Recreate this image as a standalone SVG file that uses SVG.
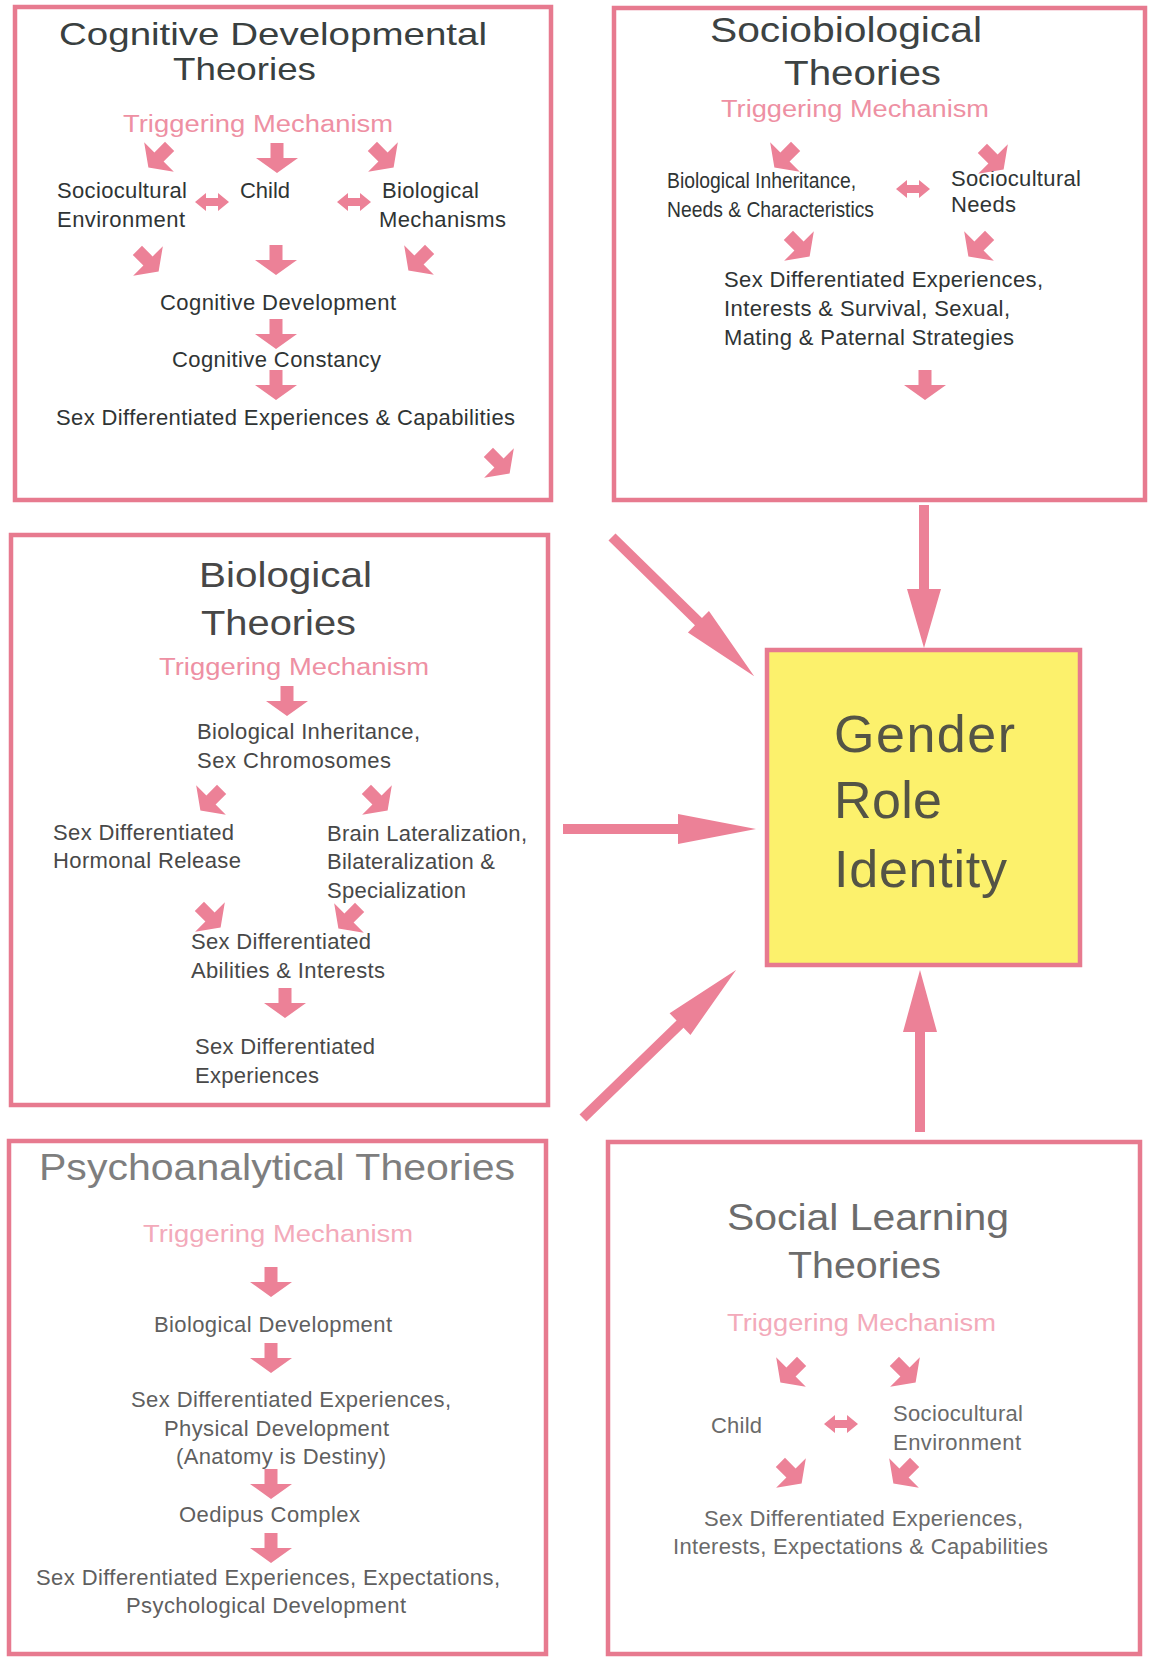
<svg xmlns="http://www.w3.org/2000/svg" xmlns:xlink="http://www.w3.org/1999/xlink" width="1149" height="1657" viewBox="0 0 1149 1657">
<style>
text{font-family:"Liberation Sans",Arial,Helvetica,sans-serif}
.box{fill:#ffffff;stroke:#E77A8F;stroke-width:4.5}
.goal{fill:#FCF16C;stroke:#E77A8F;stroke-width:4.5}
.ar{fill:#EC8197}
.t1{font-size:32px;fill:#394040}
.t2{font-size:35px;fill:#3d4343}
.t3{font-size:35px;fill:#474747}
.t5{font-size:36px;fill:#7e7e7e}
.t6{font-size:36px;fill:#6c6c6c}
.trig{font-size:23px;fill:#EE90A3}
.trig2{font-size:23px;fill:#F3AABA}
.b1{font-size:22px;fill:#2f3434}
.b3{font-size:22px;fill:#484848}
.b5{font-size:22px;fill:#5f5f5f}
.b6{font-size:22px;fill:#6a6a6a}
.g{font-size:52px;fill:#545446}
</style>
<defs>
<polygon id="ad" points="-6.5,-15 6.5,-15 6.5,0 21,0 0,15 -21,0 -6.5,0"/>
<polygon id="dbl" points="-17,0 -6,-9 -6,-4 6,-4 6,-9 17,0 6,9 6,4 -6,4 -6,9"/>
</defs>

<g id="cognitive">
<rect class="box" x="15" y="7" width="536" height="493"/>
<text class="t1" x="59" y="45" textLength="428" lengthAdjust="spacingAndGlyphs">Cognitive Developmental</text>
<text class="t1" x="173" y="80" textLength="143" lengthAdjust="spacingAndGlyphs">Theories</text>
<text class="trig" x="123" y="132" textLength="270" lengthAdjust="spacingAndGlyphs">Triggering Mechanism</text>
<text class="b1" x="57" y="198" textLength="130">Sociocultural</text>
<text class="b1" x="57" y="227" textLength="128">Environment</text>
<text class="b1" x="240" y="198" textLength="50">Child</text>
<text class="b1" x="382" y="198" textLength="97">Biological</text>
<text class="b1" x="379" y="227" textLength="127">Mechanisms</text>
<text class="b1" x="160" y="310" textLength="236">Cognitive Development</text>
<text class="b1" x="172" y="367" textLength="209">Cognitive Constancy</text>
<text class="b1" x="56" y="425" textLength="459">Sex Differentiated Experiences &amp; Capabilities</text>
<g class="ar">
<use xlink:href="#ad" transform="translate(159,157) rotate(45)"/>
<use xlink:href="#ad" transform="translate(277,158)"/>
<use xlink:href="#ad" transform="translate(383,157) rotate(-45)"/>
<use xlink:href="#dbl" transform="translate(212,202)"/>
<use xlink:href="#dbl" transform="translate(354,202)"/>
<use xlink:href="#ad" transform="translate(148,261) rotate(-45)"/>
<use xlink:href="#ad" transform="translate(276,260)"/>
<use xlink:href="#ad" transform="translate(419,260) rotate(45)"/>
<use xlink:href="#ad" transform="translate(276,334)"/>
<use xlink:href="#ad" transform="translate(276,385)"/>
<use xlink:href="#ad" transform="translate(499,463) rotate(-45)"/>
</g>
</g>

<g id="sociobiological">
<rect class="box" x="614" y="8" width="531" height="492"/>
<text class="t2" x="710" y="42" textLength="272" lengthAdjust="spacingAndGlyphs">Sociobiological</text>
<text class="t2" x="784" y="85" textLength="157" lengthAdjust="spacingAndGlyphs">Theories</text>
<text class="trig" x="721" y="117" textLength="268" lengthAdjust="spacingAndGlyphs">Triggering Mechanism</text>
<text class="b1" x="667" y="188" textLength="189" lengthAdjust="spacingAndGlyphs">Biological Inheritance,</text>
<text class="b1" x="667" y="217" textLength="207" lengthAdjust="spacingAndGlyphs">Needs &amp; Characteristics</text>
<text class="b1" x="951" y="186" textLength="130">Sociocultural</text>
<text class="b1" x="951" y="212" textLength="65">Needs</text>
<text class="b1" x="724" y="287" textLength="319">Sex Differentiated Experiences,</text>
<text class="b1" x="724" y="316" textLength="286">Interests &amp; Survival, Sexual,</text>
<text class="b1" x="724" y="345" textLength="290">Mating &amp; Paternal Strategies</text>
<g class="ar">
<use xlink:href="#ad" transform="translate(785,157) rotate(45)"/>
<use xlink:href="#ad" transform="translate(993,159) rotate(-45)"/>
<use xlink:href="#dbl" transform="translate(913,189)"/>
<use xlink:href="#ad" transform="translate(799,246) rotate(-45)"/>
<use xlink:href="#ad" transform="translate(979,246) rotate(45)"/>
<use xlink:href="#ad" transform="translate(925,385)"/>
</g>
</g>

<g id="biological">
<rect class="box" x="11" y="535" width="537" height="570"/>
<text class="t3" x="199" y="587" textLength="173" lengthAdjust="spacingAndGlyphs">Biological</text>
<text class="t3" x="201" y="635" textLength="155" lengthAdjust="spacingAndGlyphs">Theories</text>
<text class="trig" x="159" y="675" textLength="270" lengthAdjust="spacingAndGlyphs">Triggering Mechanism</text>
<text class="b3" x="197" y="739" textLength="223">Biological Inheritance,</text>
<text class="b3" x="197" y="768" textLength="194">Sex Chromosomes</text>
<text class="b3" x="53" y="840" textLength="181">Sex Differentiated</text>
<text class="b3" x="53" y="868" textLength="188">Hormonal Release</text>
<text class="b3" x="327" y="841" textLength="200">Brain Lateralization,</text>
<text class="b3" x="327" y="869" textLength="168">Bilateralization &amp;</text>
<text class="b3" x="327" y="898" textLength="139">Specialization</text>
<text class="b3" x="191" y="949" textLength="180">Sex Differentiated</text>
<text class="b3" x="191" y="978" textLength="194">Abilities &amp; Interests</text>
<text class="b3" x="195" y="1054" textLength="180">Sex Differentiated</text>
<text class="b3" x="195" y="1083" textLength="124">Experiences</text>
<g class="ar">
<use xlink:href="#ad" transform="translate(287,701)"/>
<use xlink:href="#ad" transform="translate(211,800) rotate(45)"/>
<use xlink:href="#ad" transform="translate(377,800) rotate(-45)"/>
<use xlink:href="#ad" transform="translate(210,917) rotate(-45)"/>
<use xlink:href="#ad" transform="translate(349,918) rotate(45)"/>
<use xlink:href="#ad" transform="translate(285,1003)"/>
</g>
</g>

<g id="gender-role-identity">
<rect class="goal" x="767" y="650" width="313" height="315"/>
<text class="g" x="834" y="752" textLength="181">Gender</text>
<text class="g" x="834" y="818" textLength="108">Role</text>
<text class="g" x="834" y="887" textLength="173">Identity</text>
</g>

<g id="psychoanalytical">
<rect class="box" x="9" y="1141" width="537" height="513"/>
<text class="t5" x="39" y="1180" textLength="476" lengthAdjust="spacingAndGlyphs">Psychoanalytical Theories</text>
<text class="trig2" x="143" y="1242" textLength="270" lengthAdjust="spacingAndGlyphs">Triggering Mechanism</text>
<text class="b5" x="154" y="1332" textLength="238">Biological Development</text>
<text class="b5" x="131" y="1407" textLength="320">Sex Differentiated Experiences,</text>
<text class="b5" x="164" y="1436" textLength="225">Physical Development</text>
<text class="b5" x="176" y="1464" textLength="210">(Anatomy is Destiny)</text>
<text class="b5" x="179" y="1522" textLength="181">Oedipus Complex</text>
<text class="b5" x="36" y="1585" textLength="464">Sex Differentiated Experiences, Expectations,</text>
<text class="b5" x="126" y="1613" textLength="280">Psychological Development</text>
<g class="ar">
<use xlink:href="#ad" transform="translate(271,1282)"/>
<use xlink:href="#ad" transform="translate(271,1358)"/>
<use xlink:href="#ad" transform="translate(271,1484)"/>
<use xlink:href="#ad" transform="translate(271,1548)"/>
</g>
</g>

<g id="social-learning">
<rect class="box" x="608" y="1142" width="532" height="512"/>
<text class="t6" x="727" y="1230" textLength="282" lengthAdjust="spacingAndGlyphs">Social Learning</text>
<text class="t6" x="788" y="1278" textLength="153" lengthAdjust="spacingAndGlyphs">Theories</text>
<text class="trig2" x="727" y="1331" textLength="269" lengthAdjust="spacingAndGlyphs">Triggering Mechanism</text>
<text class="b6" x="711" y="1433" textLength="51">Child</text>
<text class="b6" x="893" y="1421" textLength="130">Sociocultural</text>
<text class="b6" x="893" y="1450" textLength="128">Environment</text>
<text class="b6" x="704" y="1526" textLength="319">Sex Differentiated Experiences,</text>
<text class="b6" x="673" y="1554" textLength="375">Interests, Expectations &amp; Capabilities</text>
<g class="ar">
<use xlink:href="#ad" transform="translate(791,1372) rotate(45)"/>
<use xlink:href="#ad" transform="translate(905,1372) rotate(-45)"/>
<use xlink:href="#dbl" transform="translate(841,1424)"/>
<use xlink:href="#ad" transform="translate(791,1473) rotate(-45)"/>
<use xlink:href="#ad" transform="translate(904,1473) rotate(45)"/>
</g>
</g>

<g id="connectors" class="ar">
<polygon points="919,505 929,505 929,589 941,589 924,648 907,589 919,589"/>
<polygon points="563,824 678,824 678,814 756,829 678,844 678,834 563,834"/>
<polygon transform="translate(612,537) rotate(44.4)" points="0,-5 121,-5 121,-15 199,0 121,15 121,5 0,5"/>
<polygon transform="translate(583,1118) rotate(-44.05)" points="0,-5 135,-5 135,-15 213,0 135,15 135,5 0,5"/>
<polygon points="915,1132 925,1132 925,1032 937,1032 920,970 903,1032 915,1032"/>
</g>
</svg>
